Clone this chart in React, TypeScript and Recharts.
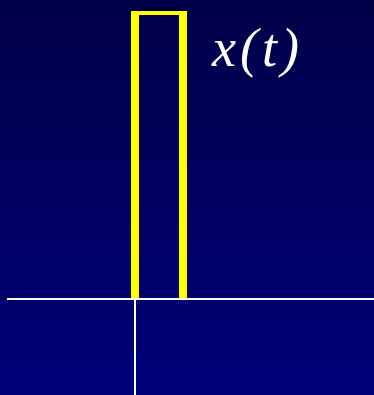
import React from "react";
import { ComposedChart, Line, XAxis, YAxis, ReferenceLine } from "recharts";

// Pulse x(t): 1 for 0<=t<=1, else 0 (drawn as three separate edges)
const pulseT = [0, 0, 0, 0, 1, 1, 1, 1];
const pulseV: (number | null)[] = [0, 1, null, 1, 1, null, 1, 0];
const pulseData = pulseT.map((t, i) => ({ t, v: pulseV[i] }));

const tDomain = [-2.667, 4.98];
const vDomain = [-1 / 3, 1];
const signalLabel = "x(t)";

export default function App() {
  return (
    <div
      style={{
        position: "fixed",
        left: 0,
        top: 0,
        width: 374,
        height: 395,
        background: "linear-gradient(to bottom, #000048 0%, #00007a 100%)",
      }}
    >
      <ComposedChart
        width={374}
        height={395}
        data={pulseData}
        margin={{ top: 11, right: 0, bottom: 0, left: 7 }}
      >
        <XAxis type="number" dataKey="t" domain={tDomain} hide allowDataOverflow />
        <YAxis type="number" domain={vDomain} hide allowDataOverflow />
        <Line
          type="linear"
          dataKey="v"
          stroke="#ffff00"
          strokeWidth={8}
          strokeLinecap="butt"
          strokeLinejoin="miter"
          dot={false}
          activeDot={false}
          connectNulls={false}
          isAnimationActive={false}
        />
        <ReferenceLine y={0} stroke="#ffffff" strokeWidth={2} />
        <ReferenceLine
          segment={[
            { x: 0, y: vDomain[0] },
            { x: 0, y: 0 },
          ]}
          stroke="#ffffff"
          strokeWidth={2}
        />
        <text
          x={212}
          y={66}
          fill="#ffffff"
          fontFamily="'Liberation Serif', 'Times New Roman', serif"
          fontStyle="italic"
          fontSize={54}
          letterSpacing={4}
        >
          {signalLabel}
        </text>
      </ComposedChart>
    </div>
  );
}
